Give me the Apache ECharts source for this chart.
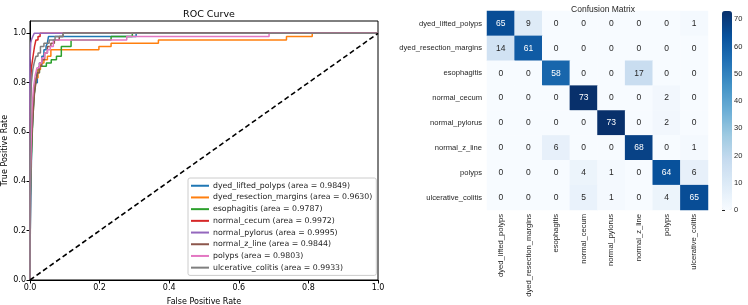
<!DOCTYPE html>
<html><head><meta charset="utf-8">
<script src="https://cdn.jsdelivr.net/npm/echarts@6/dist/echarts.min.js"></script>
<style>html,body{margin:0;padding:0;background:#fff}#c{width:748px;height:305px}</style>
</head><body><div id="c"></div>
<script>
// ---- ROC data (step curves: fpr / tpr pairs) ----
const classNames = ['dyed_lifted_polyps','dyed_resection_margins','esophagitis','normal_cecum','normal_pylorus','normal_z_line','polyps','ulcerative_colitis'];
const aucValues = ['0.9849','0.9630','0.9787','0.9972','0.9995','0.9844','0.9803','0.9933'];

const fpr_dyed_lifted_polyps = [0,0,0.004,0.006,0.010,0.015,0.021,0.027,0.034,0.040,0.046,0.050,0.053,0.305,1];
const tpr_dyed_lifted_polyps = [0,0.133,0.48,0.60,0.72,0.80,0.853,0.88,0.907,0.933,0.947,0.96,0.987,1,1];

const fpr_dyed_resection_margins = [0,0,0.004,0.008,0.012,0.017,0.023,0.030,0.040,0.050,0.060,0.198,0.233,0.369,0.737,0.811,1];
const tpr_dyed_resection_margins = [0,0.40,0.60,0.70,0.77,0.82,0.853,0.88,0.893,0.907,0.933,0.947,0.96,0.973,0.987,1,1];

const fpr_esophagitis = [0,0,0.004,0.008,0.012,0.016,0.021,0.027,0.047,0.061,0.076,0.090,0.118,0.233,0.294,1];
const tpr_esophagitis = [0,0.30,0.50,0.65,0.75,0.80,0.84,0.867,0.88,0.893,0.907,0.947,0.973,0.987,1,1];

const fpr_normal_cecum = [0,0,0.002,0.004,0.008,0.013,0.017,0.023,0.029,1];
const tpr_normal_cecum = [0,0.60,0.80,0.86,0.90,0.947,0.973,0.987,1,1];

const fpr_normal_pylorus = [0,0,0.002,0.004,0.008,0.012,1];
const tpr_normal_pylorus = [0,0.88,0.96,0.973,0.987,1,1];

const fpr_normal_z_line = [0,0.002,0.006,0.010,0.013,0.017,0.021,0.027,0.034,0.042,0.050,0.060,0.070,0.084,0.095,1];
const tpr_normal_z_line = [0,0.45,0.60,0.70,0.76,0.80,0.84,0.867,0.893,0.92,0.947,0.96,0.973,0.987,1,1];

const fpr_polyps = [0,0,0.003,0.006,0.010,0.015,0.020,0.027,0.034,0.042,0.050,0.058,0.067,0.278,0.687,1];
const tpr_polyps = [0,0.30,0.55,0.70,0.78,0.83,0.86,0.88,0.90,0.92,0.933,0.947,0.973,0.987,1,1];

const fpr_ulcerative_colitis = [0,0,0.002,0.004,0.008,0.012,0.017,0.023,0.030,0.040,0.055,0.072,0.095,1];
const tpr_ulcerative_colitis = [0,0.50,0.70,0.80,0.853,0.88,0.907,0.92,0.947,0.96,0.973,0.987,1,1];

const diagonal = [[0,0],[1,1]];

// ---- Confusion matrix ----
const cmLabels = classNames;
const cmRows = [
  [65, 9, 0, 0, 0, 0, 0, 1],
  [14,61, 0, 0, 0, 0, 0, 0],
  [ 0, 0,58, 0, 0,17, 0, 0],
  [ 0, 0, 0,73, 0, 0, 2, 0],
  [ 0, 0, 0, 0,73, 0, 2, 0],
  [ 0, 0, 6, 0, 0,68, 0, 1],
  [ 0, 0, 0, 4, 1, 0,64, 6],
  [ 0, 0, 0, 5, 1, 0, 4,65]
];
const colorbarTicks = [0,10,20,30,40,50,60,70];

const rocColors = ['#1f77b4','#ff7f0e','#2ca02c','#d62728','#9467bd','#8c564b','#e377c2','#7f7f7f'];
const blues = ['#f7fbff','#deebf7','#c6dbef','#9ecae1','#6baed6','#4292c6','#2171b5','#08519c','#08306b'];

const fprs = [fpr_dyed_lifted_polyps,fpr_dyed_resection_margins,fpr_esophagitis,fpr_normal_cecum,fpr_normal_pylorus,fpr_normal_z_line,fpr_polyps,fpr_ulcerative_colitis];
const tprs = [tpr_dyed_lifted_polyps,tpr_dyed_resection_margins,tpr_esophagitis,tpr_normal_cecum,tpr_normal_pylorus,tpr_normal_z_line,tpr_polyps,tpr_ulcerative_colitis];

const legendNames = classNames.map((n,i)=> n + ' (area = ' + aucValues[i] + ')');
const rocSeries = classNames.map((n,i)=>({
  type:'line', name: legendNames[i], xAxisIndex:0, yAxisIndex:0,
  step:'end', showSymbol:false, symbol:'none', animation:false,
  lineStyle:{width:1.5, color:rocColors[i]}, itemStyle:{color:rocColors[i]},
  data: fprs[i].map((x,j)=>[x, tprs[i][j]]), z: 2+i
}));

const heatData = [];
cmRows.forEach((row,r)=>row.forEach((v,c)=>heatData.push({value:[c,r,v], label:{color: v > 40 ? '#ffffff' : '#262626'}})));

const mpl = 'DejaVu Sans';
const sns = 'Liberation Sans';

const chart = echarts.init(document.getElementById('c'), null, {renderer:'canvas'});
chart.setOption({
  animation:false,
  backgroundColor:'#fff',
  title:[
    {text:'ROC Curve', left:204, top:5, textAlign:'center', textStyle:{fontFamily:mpl, fontSize:9.5, fontWeight:'normal', color:'#000'}},
    {text:'Confusion Matrix', left:598, top:0, textAlign:'center', textStyle:{fontFamily:sns, fontSize:8.5, fontWeight:'normal', color:'#262626'}}
  ],
  grid:[
    {left:30, top:21, width:348, height:259, show:true, borderColor:'#000', borderWidth:1, backgroundColor:'transparent', containLabel:false, outerBoundsMode:'none'},
    {left:487, top:11, width:221, height:199, containLabel:false, outerBoundsMode:'none'},
    {left:722, top:11, width:10, height:199, containLabel:false, outerBoundsMode:'none'}
  ],
  xAxis:[
    {type:'value', gridIndex:0, min:0, max:1, interval:0.2,
     name:'False Positive Rate', nameLocation:'middle', nameGap:18,
     nameTextStyle:{fontFamily:mpl, fontSize:8, color:'#000'},
     axisLine:{show:true, lineStyle:{color:'#000', width:1}},
     axisTick:{show:true, length:3.5, lineStyle:{color:'#000'}},
     axisLabel:{fontFamily:mpl, fontSize:8, color:'#000', margin:4, formatter:v=>v.toFixed(1)},
     splitLine:{show:false}},
    {type:'category', gridIndex:1, data:cmLabels, position:'bottom',
     axisLine:{show:false}, axisTick:{show:false}, splitLine:{show:false},
     axisLabel:{rotate:90, interval:0, fontFamily:sns, fontSize:7.6, color:'#262626', margin:4}},
    {type:'value', gridIndex:2, show:false, min:0, max:1}
  ],
  yAxis:[
    {type:'value', gridIndex:0, min:0, max:1.05, interval:0.2,
     name:'True Positive Rate', nameLocation:'middle', nameGap:21, nameRotate:90,
     nameTextStyle:{fontFamily:mpl, fontSize:8, color:'#000'},
     axisLine:{show:true, lineStyle:{color:'#000', width:1}},
     axisTick:{show:true, length:3.5, lineStyle:{color:'#000'}},
     axisLabel:{fontFamily:mpl, fontSize:8, color:'#000', margin:4, showMaxLabel:false,
       formatter:v=> (v>1.001 ? '' : v.toFixed(1))},
     splitLine:{show:false}},
    {type:'category', gridIndex:1, data:cmLabels, inverse:true,
     axisLine:{show:false}, axisTick:{show:false}, splitLine:{show:false},
     axisLabel:{interval:0, fontFamily:sns, fontSize:7.6, color:'#262626', margin:5}},
    {type:'value', gridIndex:2, min:0, max:73, interval:10, position:'right',
     axisLine:{show:false}, splitLine:{show:false},
     axisTick:{show:true, length:3, lineStyle:{color:'#262626'}},
     axisLabel:{fontFamily:sns, fontSize:7.5, color:'#262626', margin:2, showMaxLabel:false,
       formatter:v=> (colorbarTicks.indexOf(v)>=0 ? String(v) : '')}}
  ],
  legend:{
    data:legendNames, orient:'vertical', left:188, top:178,
    backgroundColor:'rgba(255,255,255,0.8)', borderColor:'#cccccc', borderWidth:1, borderRadius:2,
    padding:[3,4,3,3], itemWidth:18, itemHeight:2, itemGap:2.2, icon:'rect',
    textStyle:{fontFamily:mpl, fontSize:7.8, color:'#222', lineHeight:9.5, padding:[0,0,0,-1]}
  },
  visualMap:{
    type:'continuous', min:0, max:73, calculable:false, seriesIndex:9,
    orient:'vertical', left:722, top:11, itemWidth:10, itemHeight:199, padding:0,
    text:null, showLabel:false, inRange:{color:blues}, borderWidth:0
  },
  series: rocSeries.concat([
    {type:'line', name:'diag', xAxisIndex:0, yAxisIndex:0, data:diagonal, showSymbol:false, symbol:'none',
     lineStyle:{color:'#000', width:1.6, type:[5,3]}, z:20, silent:true},
    {type:'heatmap', xAxisIndex:1, yAxisIndex:1, data:heatData,
     label:{show:true, fontFamily:sns, fontSize:8.5,
       formatter:p=>String(p.value[2]), color:'#262626'},
     itemStyle:{borderWidth:0},
     emphasis:{disabled:true}}
  ])
});
</script></body></html>
